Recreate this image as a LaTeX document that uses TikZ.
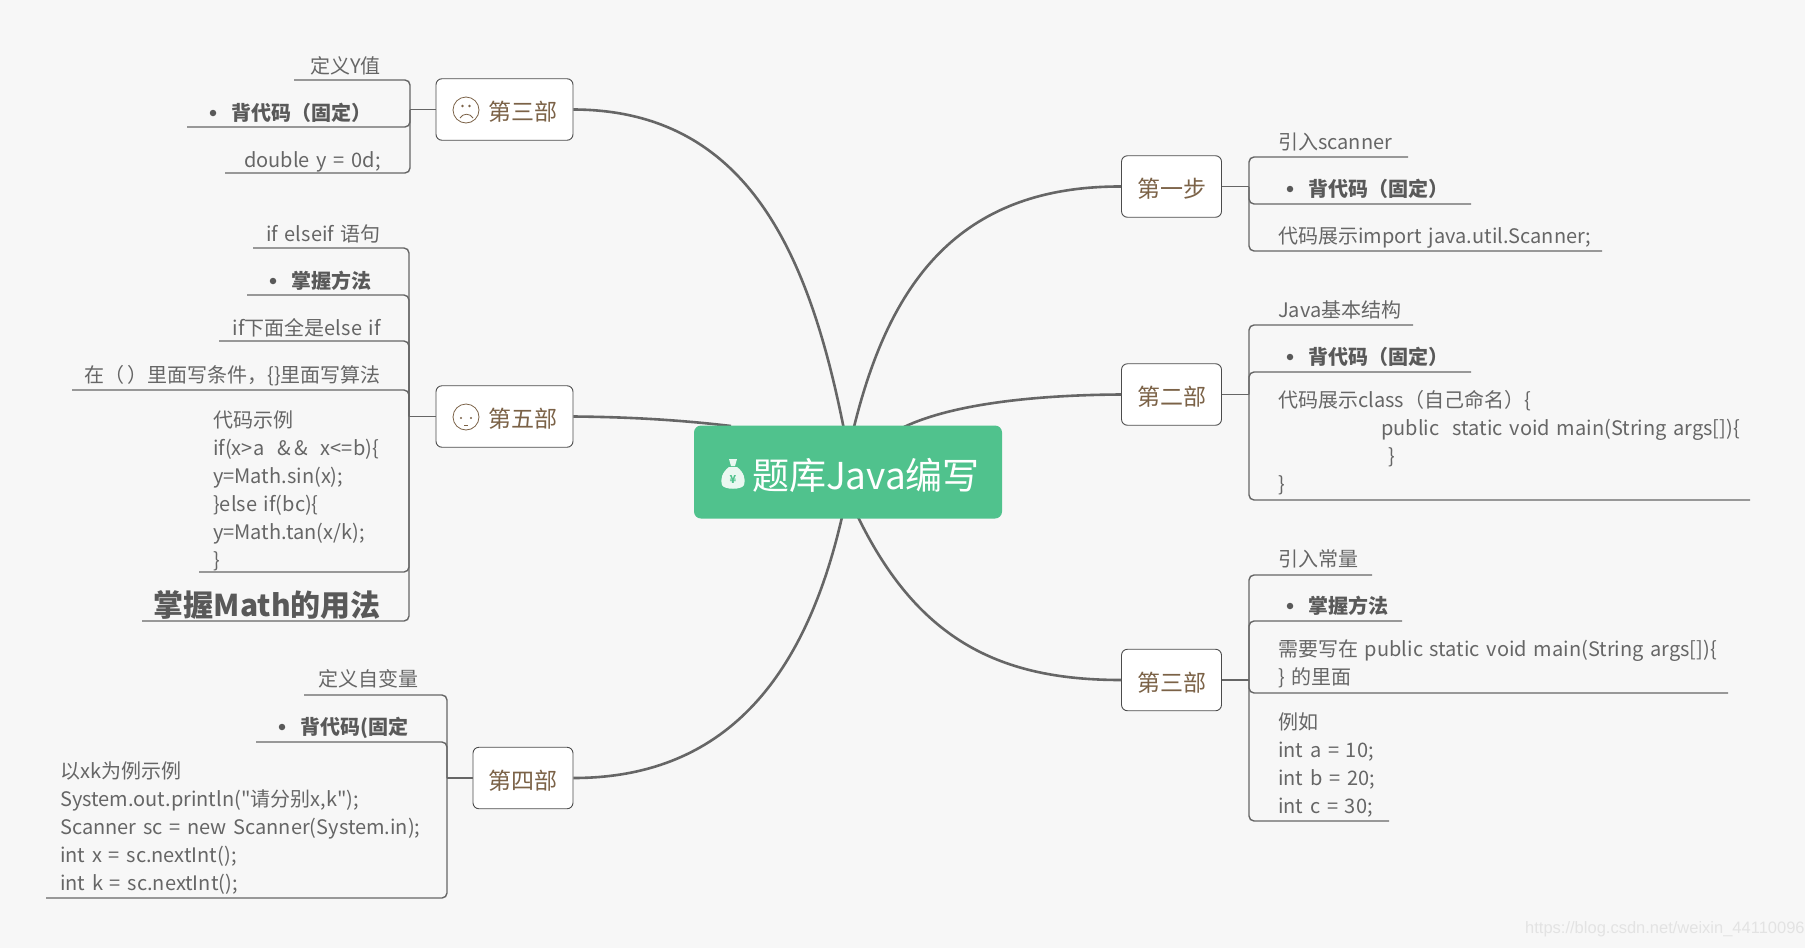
\documentclass[tikz,border=0pt]{standalone}
\usepackage{fontspec}
\setmainfont{Noto Sans CJK SC}[WordSpace=1.5]
\newfontfamily\plainfont{Noto Sans CJK SC}
\newfontfamily\markfont{Liberation Sans}

\definecolor{pagegray}{HTML}{F7F7F7}
\definecolor{linegray}{HTML}{666666}
\definecolor{leafgray}{HTML}{666666}
\definecolor{boldgray}{HTML}{595959}
\definecolor{topicbrown}{HTML}{7B6247}
\definecolor{rootgreen}{HTML}{50C28D}
\definecolor{baggreen}{HTML}{EAF8F1}

\tikzset{
  topic/.style={draw=black!70,fill=white,rounded corners=6pt,line width=.9pt,inner sep=0pt,
    text=topicbrown,font=\fontsize{23}{28}\selectfont,minimum height=61.5pt,
    text height=24pt,text depth=2pt},
  leaf/.style={inner sep=0pt,text=leafgray,font=\fontsize{20}{28}\selectfont},
  leafb/.style={leaf,text=boldgray,font=\fontsize{20}{28}\selectfont\bfseries},
  block/.style={leaf,align=left,anchor=north west},
  limb/.style={draw=linegray,line width=2.6pt},
  twig/.style={draw=linegray,line width=1.4pt,rounded corners=5pt},
  dot/.style={circle,fill=boldgray,minimum size=6.5pt,inner sep=0pt},
  face/.style={draw=topicbrown,line width=.8pt}
}

\begin{document}
\begin{tikzpicture}[x=1pt,y=-1pt]
  \useasboundingbox (0,0) rectangle (1805,948);
  \fill[pagegray] (0,0) rectangle (1805,948);

  % the five curves go first, the boxes sit on their ends
  \coordinate (inthree) at (843.5,427);
  \coordinate (infive) at (731,426);
  \coordinate (infour) at (842,517);
  \coordinate (instep) at (854,427);
  \coordinate (intwo) at (904,427);
  \coordinate (inconst) at (858,517);

  \node[topic,minimum width=137pt] (three) at (504.5,109.5) {\hspace{36pt}第三部};
  \node[topic,minimum width=137pt] (five) at (504.5,416.5) {\hspace{36pt}第五部};
  \node[topic,minimum width=100pt] (four) at (523,778) {第四部};
  \node[topic,minimum width=100pt] (step) at (1171.5,186.5) {第一步};
  \node[topic,minimum width=100pt] (two) at (1171.5,394.5) {第二部};
  \node[topic,minimum width=100pt] (const) at (1171.5,680) {第三部};

  \draw[limb] (three.east) .. controls (748,110) and (809,255) .. (inthree);
  \draw[limb] (five.east) .. controls (630,417) and (680,420) .. (infive);
  \draw[limb] (four.east) .. controls (733,778) and (807.5,667) .. (infour);
  \draw[limb] (step.west) .. controls (957,186) and (889,285) .. (instep);
  \draw[limb] (two.west) .. controls (1030,395) and (950,405) .. (intwo);
  \draw[limb] (const.west) .. controls (1002,680) and (919,642) .. (inconst);

  \node[fill=rootgreen,rounded corners=7pt,minimum width=308pt,minimum height=93pt,inner sep=0pt,
    text=white,font=\fontsize{37}{40}\selectfont,text height=38pt,text depth=3pt] (root) at (848,472) {\hspace{36pt}题库Java编写};

  % money bag
  \fill[baggreen] (729,459) -- (737,459) -- (735,466) -- (731,466) -- cycle;
  \fill[baggreen] (729,467) .. controls (722,472) and (720,480) .. (722,485)
    .. controls (724,490) and (742,490) .. (744,485)
    .. controls (746,480) and (744,472) .. (737,467) -- cycle;
  \node[inner sep=0pt,text=rootgreen,font=\fontsize{11}{11}\selectfont\bfseries] (yen) at (733,479) {¥};

  % faces
  \draw[face] (466,110) circle (13);
  \fill[topicbrown] (462.5,106) circle (1.3) (469.5,106) circle (1.3);
  \draw[face] (460,118) .. controls (463,113) and (470,113) .. (473,118);
  \draw[face] (466,417) circle (13);
  \fill[topicbrown] (461,418) circle (1.2) (471,418) circle (1.2);
  \draw[face] (464,425) -- (468,425);

  % left, top
  \coordinate (sthree) at (410,109.5);
  \draw[twig] (three.west) -- (sthree);
  \foreach \n/\y/\e in {a/80/294,b/127/187,c/173/225}{
    \coordinate (three\n) at (\e,\y);
    \draw[twig] (sthree) |- (three\n);
  }
  \node[leaf,anchor=base east] (threea) at (381,73) {定义Y值};
  \node[dot] (threedot) at (213,113) {};
  \node[leafb,anchor=base west] (threeb) at (231,120) {背代码（固定）};
  \node[leaf,anchor=base east] (threec) at (381,167) {double y = 0d;};

  % left, middle
  \coordinate (sfive) at (409,416.5);
  \draw[twig] (five.west) -- (sfive);
  \foreach \n/\y/\e in {a/248/253,b/295/247,c/341/219,d/390/72,e/572/199,f/621/142}{
    \coordinate (five\n) at (\e,\y);
    \draw[twig] (sfive) |- (five\n);
  }
  \node[leaf,anchor=base east] (fivea) at (381,241) {if elseif 语句};
  \node[dot] (fivedot) at (273,281) {};
  \node[leafb,anchor=base west] (fiveb) at (291,288) {掌握方法};
  \node[leaf,anchor=base east] (fivec) at (381,335) {if下面全是else if};
  \node[leaf,anchor=base east] (fived) at (381,382) {在（\hspace{-4pt} ）里面写条件，\{\}里面写算法};
  \node[block] (fivee) at (213,410.5) {代码示例\\if(x>a\hspace{6pt} \&\hspace{4pt}\&\hspace{6pt} x<=b)\{\\y=Math.sin(x);\\\}else if(bc)\{\\y=Math.tan(x/k);\\\}};
  \node[leafb,anchor=base east,font=\fontsize{30}{32}\selectfont\bfseries] (fivef) at (381,616) {掌握Math的用法};

  % left, bottom
  \coordinate (sfour) at (447,778);
  \draw[twig] (four.west) -- (sfour);
  \foreach \n/\y/\e in {a/695/304,b/742/256,c/898/46}{
    \coordinate (four\n) at (\e,\y);
    \draw[twig] (sfour) |- (four\n);
  }
  \node[leaf,anchor=base east] (foura) at (419,686) {定义自变量};
  \node[dot] (fourdot) at (282,727) {};
  \node[leafb,anchor=base west] (fourb) at (300,734) {背代码(固定};
  \node[block] (fourc) at (60,761.5) {以xk为例示例\\System.out.println({\plainfont"}请分别x,k{\plainfont"});\\Scanner sc = new Scanner(System.in);\\int x = sc.nextInt();\\int k = sc.nextInt();};

  % right, top
  \coordinate (sstep) at (1249,186.5);
  \draw[twig] (step.east) -- (sstep);
  \foreach \n/\y/\e in {a/157/1408,b/204/1471,c/251/1602}{
    \coordinate (step\n) at (\e,\y);
    \draw[twig] (sstep) |- (step\n);
  }
  \node[leaf,anchor=base west] (stepa) at (1278,149) {引入scanner};
  \node[dot] (stepdot) at (1290,189) {};
  \node[leafb,anchor=base west] (stepb) at (1308,196) {背代码（固定）};
  \node[leaf,anchor=base west] (stepc) at (1278,243) {代码展示import java.util.Scanner;};

  % right, middle
  \coordinate (stwo) at (1249,394.5);
  \draw[twig] (two.east) -- (stwo);
  \foreach \n/\y/\e in {a/325/1413,b/372/1471,c/500/1750}{
    \coordinate (two\n) at (\e,\y);
    \draw[twig] (stwo) |- (two\n);
  }
  \node[leaf,anchor=base west] (twoa) at (1278,317) {Java基本结构};
  \node[dot] (twodot) at (1290,357) {};
  \node[leafb,anchor=base west] (twob) at (1308,364) {背代码（固定）};
  \node[block] (twoc) at (1278,390.5) {代码展示class（自己命名）\{\\\hspace*{103pt}public\ \ static void main(String args[])\{\\\hspace*{110pt}\}\\\}};

  % right, bottom
  \coordinate (sconst) at (1249,680);
  \draw[twig] (const.east) -- (sconst);
  \foreach \n/\y/\e in {a/575/1372,b/621/1402,c/693/1728,d/821/1389}{
    \coordinate (const\n) at (\e,\y);
    \draw[twig] (sconst) |- (const\n);
  }
  \node[leaf,anchor=base west] (consta) at (1278,566) {引入常量};
  \node[dot] (constdot) at (1290,606) {};
  \node[leafb,anchor=base west] (constb) at (1308,613) {掌握方法};
  \node[block] (constc) at (1278,639) {需要写在 public static void main(String args[])\{\\\} 的里面};
  \node[block] (constd) at (1278,713) {例如\\int a = 10;\\int b = 20;\\int c = 30;};

  \node[inner sep=0pt,anchor=west,text=black!11,font=\markfont\fontsize{16.5}{20}\selectfont] (mark) at (1525,929) {https://blog.csdn.net/weixin\_44110096};
\end{tikzpicture}
\end{document}
